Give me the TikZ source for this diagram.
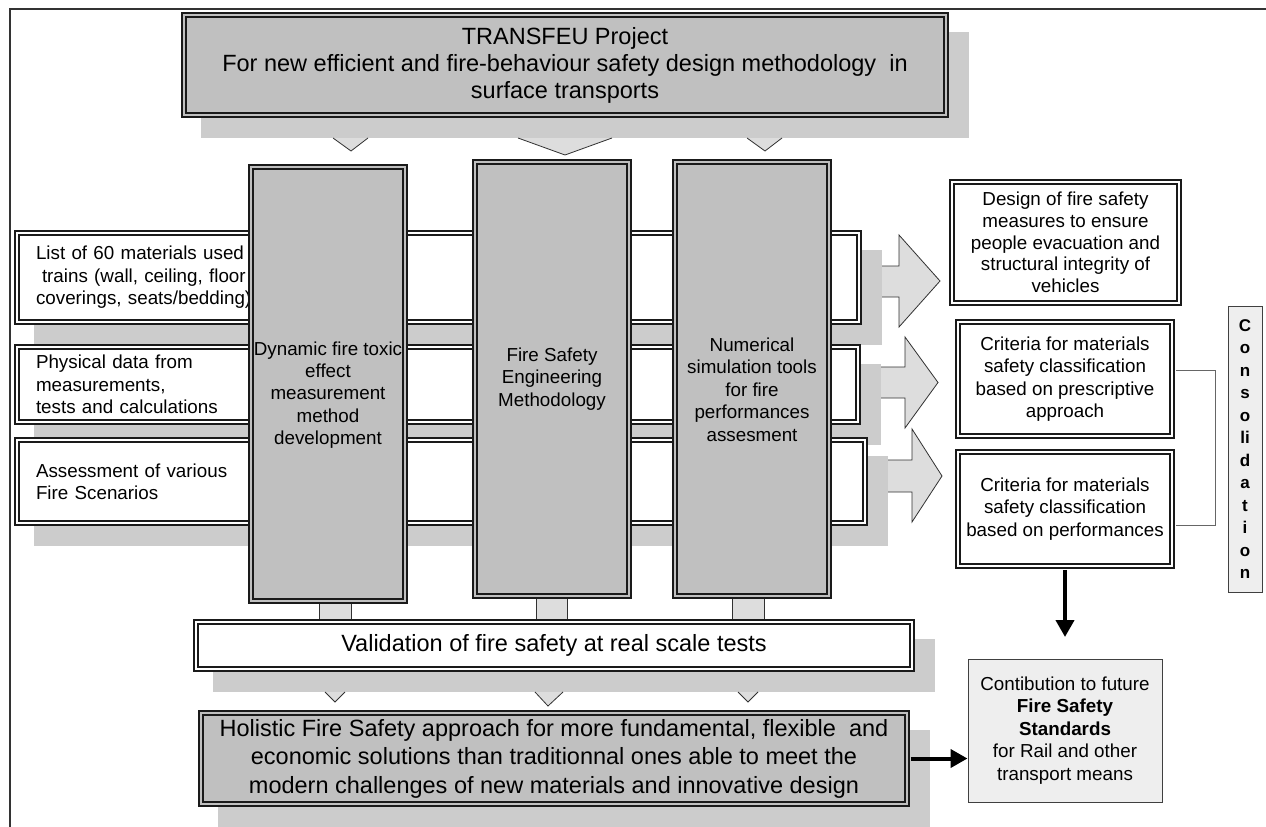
\documentclass[tikz,border=0pt]{standalone}
\usepackage{fontspec}
\setmainfont{Liberation Sans}
\usetikzlibrary{arrows.meta}
\definecolor{boxgray}{HTML}{C0C0C0}
\definecolor{shadowgray}{HTML}{CCCCCC}
\definecolor{arrowgray}{HTML}{DDDDDD}
\definecolor{lightbox}{HTML}{EEEEEE}
\definecolor{linec}{HTML}{1A1A1A}
\definecolor{framec}{HTML}{333333}
\tikzset{
  dbl/.style={draw=linec, line width=1.8pt, double distance=2.2pt, inner sep=0pt, rectangle},
  graybox/.style={dbl, fill=boxgray, double=boxgray},
  whitebox/.style={dbl, fill=white, double=white},
  shadowfill/.style={fill=shadowgray},
  bigfont/.style={font=\fontsize{23.5}{27}\selectfont},
  smallfont/.style={font=\fontsize{18.8}{22.4}\selectfont},
  arrowfill/.style={fill=arrowgray},
  edgeline/.style={draw=linec!90, line width=0.8pt},
  bigarrow/.style={draw=black, line width=4pt, -{Triangle[width=18pt,length=17pt]}},
  bracketline/.style={draw=black!60, line width=1pt},
  plainbox/.style={draw=black!75, line width=1pt, fill=lightbox, inner sep=0pt, rectangle}
}
\begin{document}
\begin{tikzpicture}[x=1pt,y=-1pt]
\useasboundingbox (0,0) rectangle (1266,827);
\fill[white] (0,0) rectangle (1266,827);
% frame
\draw[framec, line width=2pt] (10,830) -- (10,9) -- (1270,9);

% top box
\fill[shadowfill] (201,32) rectangle (969,138);
\node[graybox, bigfont, align=center, minimum width=762pt, minimum height=100pt] (top) at (565,65)
  {TRANSFEU Project\\For new efficient and fire-behaviour safety design methodology\ \ in\\surface transports};

% top chevrons
\fill[arrowfill] (333,138) -- (351,151) -- (368,138) -- cycle;
\draw[edgeline] (333,138) -- (351,151) -- (368,138);
\fill[arrowfill] (518,138) -- (565,155) -- (612,138) -- cycle;
\draw[edgeline] (518,138) -- (565,155) -- (612,138);
\fill[arrowfill] (747,138) -- (765,151) -- (782,138) -- cycle;
\draw[edgeline] (747,138) -- (765,151) -- (782,138);

% left input boxes
\fill[shadowfill] (34,250) rectangle (882,345);
\node[whitebox, smallfont, align=left, minimum width=842pt, minimum height=89pt, text width=804pt] (ba) at (438,277.5)
  {List of 60 materials used in\\\hspace*{6pt}trains (wall, ceiling, floor\\coverings, seats/bedding)};
\fill[shadowfill] (34,364) rectangle (881,445);
\node[whitebox, smallfont, align=left, minimum width=841pt, minimum height=75pt, text width=803pt] (bb) at (437.5,384.5)
  {Physical data from\\measurements,\\tests and calculations};
\fill[shadowfill] (34,456) rectangle (888,546);
\node[whitebox, smallfont, align=left, minimum width=848pt, minimum height=83pt, text width=810pt] (bc) at (441,481.5)
  {Assessment of various\\Fire Scenarios};

% block arrows to the right
\fill[arrowfill] (882,266) -- (899,266) -- (899,235) -- (940,281) -- (899,327) -- (899,297) -- (882,297) -- cycle;
\draw[edgeline] (882,266) -- (899,266) -- (899,235) -- (940,281) -- (899,327) -- (899,297) -- (882,297);
\fill[arrowfill] (881,367) -- (905,367) -- (905,337) -- (938,382.5) -- (905,428) -- (905,398) -- (881,398) -- cycle;
\draw[edgeline] (881,367) -- (905,367) -- (905,337) -- (938,382.5) -- (905,428) -- (905,398) -- (881,398);
\fill[arrowfill] (888,460) -- (912,460) -- (912,429) -- (942,476) -- (912,522) -- (912,492) -- (888,492) -- cycle;
\draw[edgeline] (888,460) -- (912,460) -- (912,429) -- (942,476) -- (912,522) -- (912,492) -- (888,492);

% pillars
\node[graybox, minimum width=154pt, minimum height=434pt] (pl) at (328,384) {};
\node[smallfont, align=center, inner sep=0pt] (plt) at (328,395)
  {Dynamic fire toxic\\effect\\measurement\\method\\development};
\node[graybox, smallfont, align=center, minimum width=154pt, minimum height=434pt] (pm) at (552,379)
  {Fire Safety\\Engineering\\Methodology};
\node[graybox, minimum width=154pt, minimum height=434pt] (pr) at (752,379) {};
\node[smallfont, align=center, inner sep=0pt] (prt) at (752,389.5)
  {Numerical\\simulation tools\\for fire\\performances\\assesment};

% pillar feet
\fill[arrowfill] (319,604) rectangle (351,620);
\draw[edgeline] (319,604) -- (319,620) (351,604) -- (351,620);
\fill[arrowfill] (536,599) rectangle (567,620);
\draw[edgeline] (536,599) -- (536,620) (567,599) -- (567,620);
\fill[arrowfill] (732,599) rectangle (764,620);
\draw[edgeline] (732,599) -- (732,620) (764,599) -- (764,620);

% validation
\fill[shadowfill] (213,639) rectangle (935,692);
\node[whitebox, bigfont, minimum width=716pt, minimum height=47pt] (val) at (554,645.5)
  {Validation of fire safety at real scale tests};

% bottom chevrons
\fill[arrowfill] (325,692) -- (335,702) -- (345,692) -- cycle;
\draw[edgeline] (325,692) -- (335,702) -- (345,692);
\fill[arrowfill] (535,692) -- (548,706) -- (563,692) -- cycle;
\draw[edgeline] (535,692) -- (548,706) -- (563,692);
\fill[arrowfill] (738,692) -- (748,702) -- (758,692) -- cycle;
\draw[edgeline] (738,692) -- (748,702) -- (758,692);

% holistic
\fill[shadowfill] (218,730) rectangle (930,830);
\node[graybox, font=\fontsize{23.5}{28.5}\selectfont, align=center, minimum width=706pt, minimum height=91pt] (hol) at (554,758.5)
  {Holistic Fire Safety approach for more fundamental, flexible\ \ and\\economic solutions than traditionnal ones able to meet the\\modern challenges of new materials and innovative design};

% right boxes
\node[whitebox, font=\fontsize{18.8}{21.7}\selectfont, align=center, minimum width=227pt, minimum height=121pt] (r1) at (1065.5,242.5)
  {Design of fire safety\\measures to ensure\\people evacuation and\\structural integrity of\\vehicles};
\node[whitebox, smallfont, align=center, minimum width=214pt, minimum height=114pt] (r2) at (1065,379)
  {Criteria for materials\\safety classification\\based on prescriptive\\approach};
\node[whitebox, smallfont, align=center, minimum width=214pt, minimum height=114pt] (r3) at (1065,509)
  {Criteria for materials\\safety classification\\based on performances};

% consolidation
\node[plainbox, font=\fontsize{17}{22.5}\selectfont\bfseries, align=center, minimum width=34pt, minimum height=286pt] (cons) at (1245,449)
  {C\\o\\n\\s\\o\\li\\d\\a\\t\\i\\o\\n};
\coordinate (b1) at (1215,370);
\coordinate (b2) at (1215,525);
\draw[bracketline] ([xshift=3pt]r2.east |- b1) -- (b1) -- (b2) -- ([xshift=3pt]r3.east |- b2);

% contribution
\node[plainbox, smallfont, align=center, minimum width=194pt, minimum height=143pt] (contrib) at (1065,730.5)
  {Contibution to future\\\textbf{Fire Safety}\\\textbf{Standards}\\for Rail and other\\transport means};

% black arrows
\coordinate (a1) at (1065,637);
\draw[bigarrow] ([yshift=-3pt]r3.south) -- (a1);
\draw[bigarrow] ([xshift=3pt]hol.east) -- (contrib.west |- hol.east);
\end{tikzpicture}
\end{document}
